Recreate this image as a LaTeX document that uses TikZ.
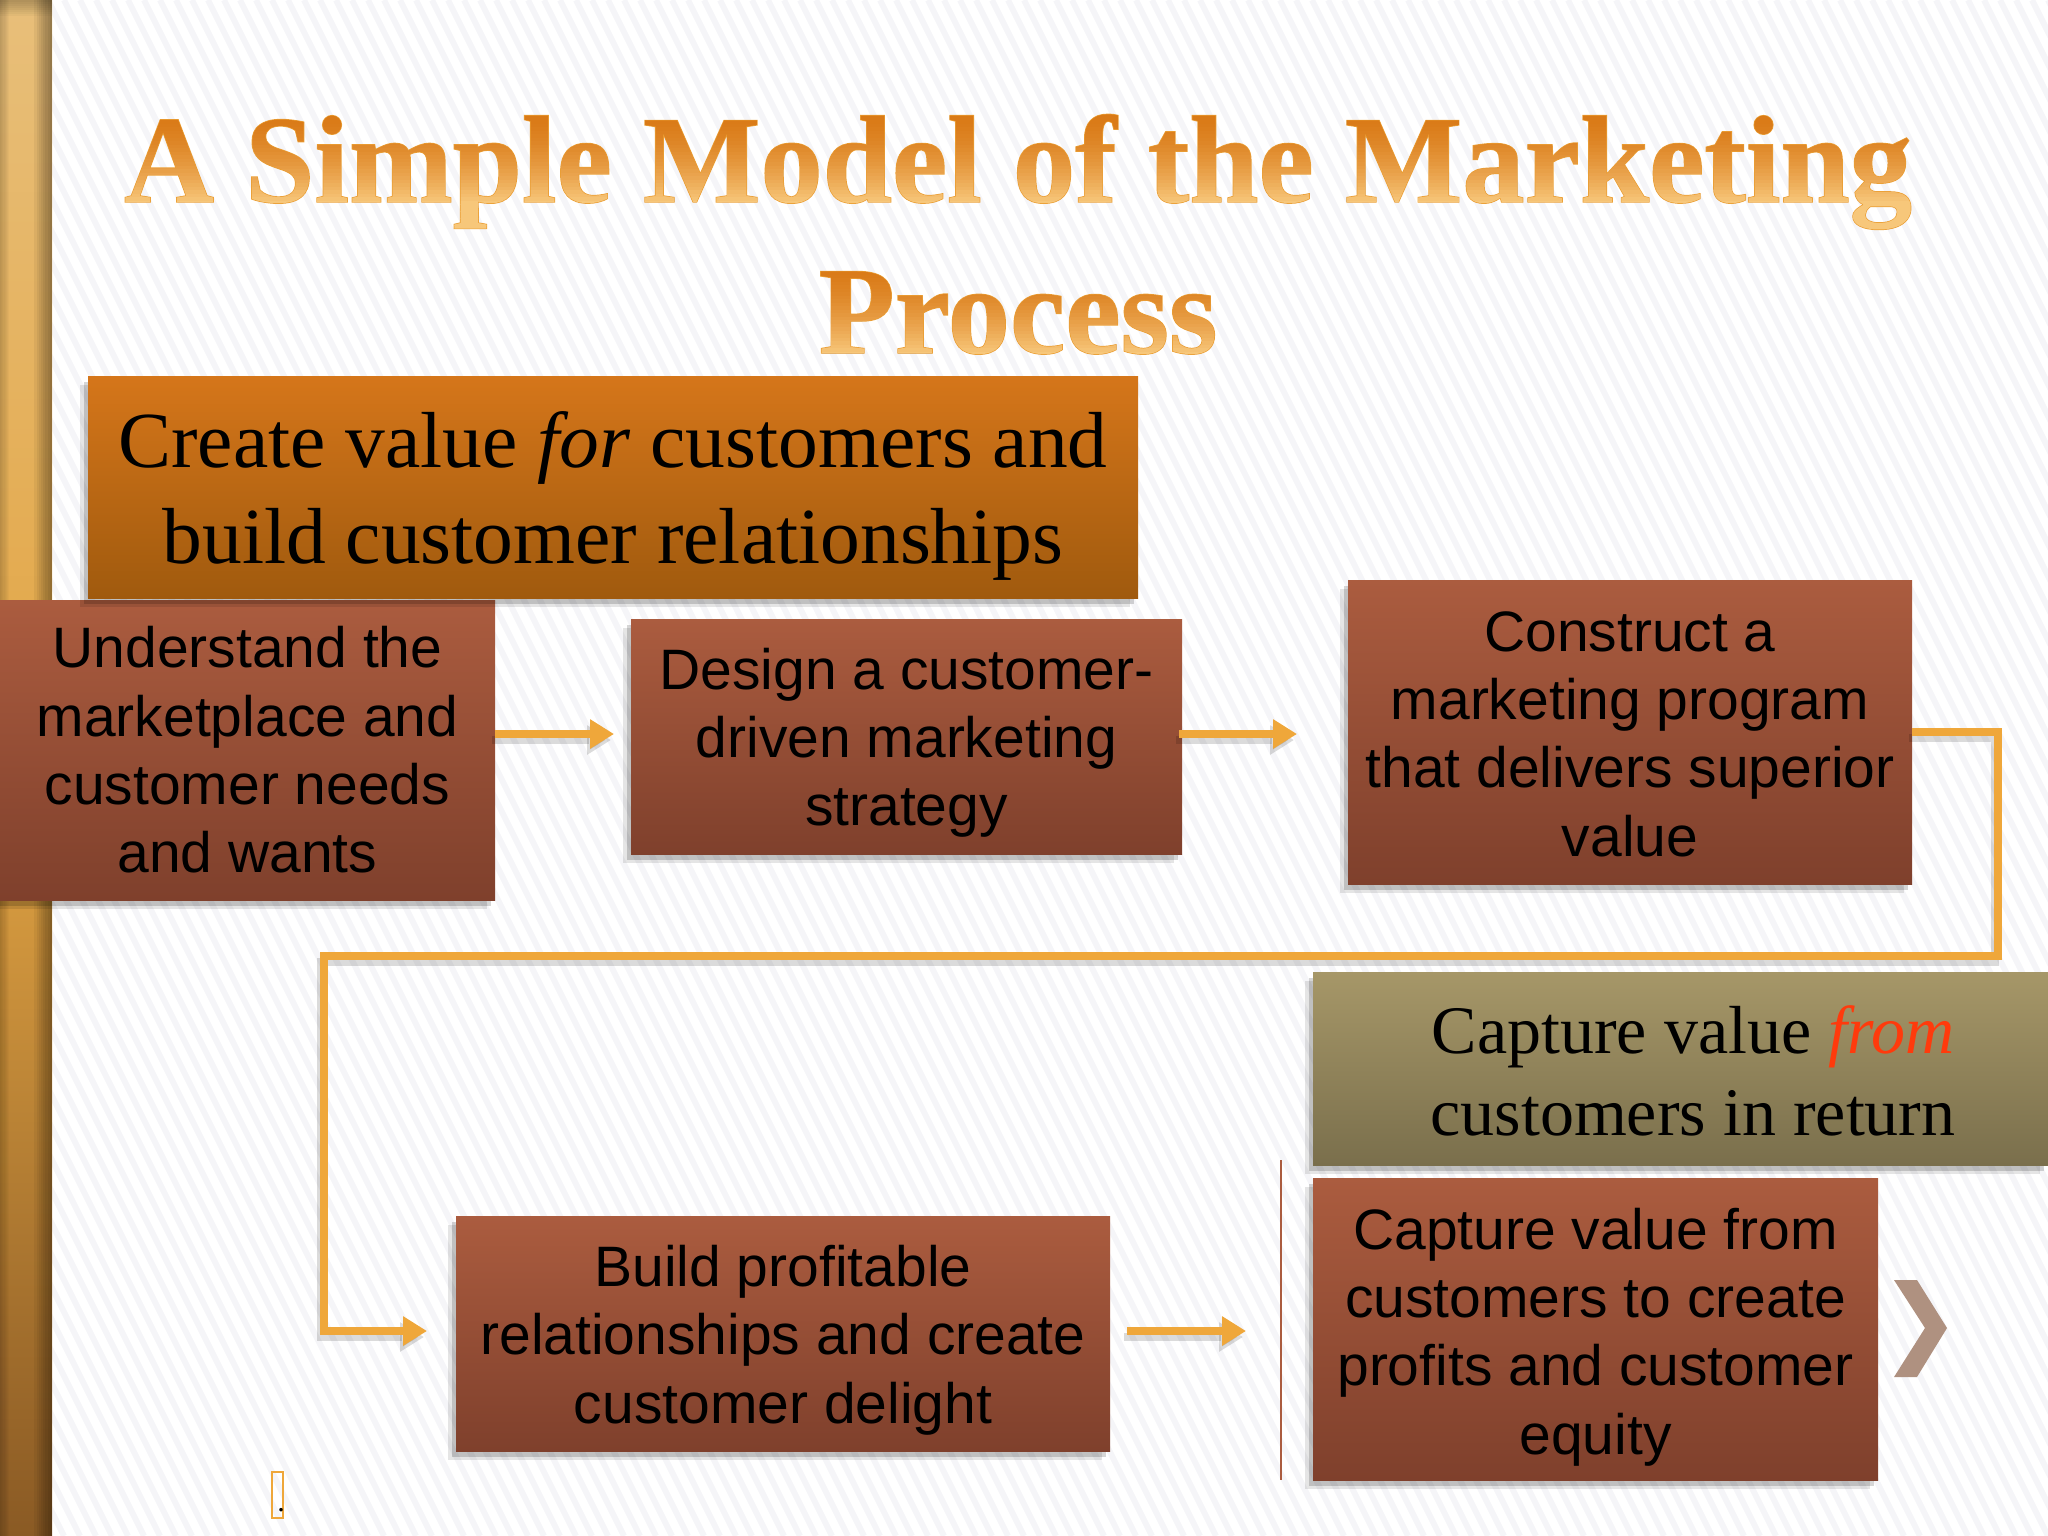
\documentclass[tikz,border=0pt]{standalone}
\usepackage{fontspec}
\usepackage{tikz}
\usetikzlibrary{arrows.meta,shadows}
\setmainfont{Liberation Serif}
\setsansfont{Liberation Sans}
\definecolor{stripe}{HTML}{F5F5F8}
\definecolor{linkcol}{HTML}{EFA73A}
\definecolor{ruby}{HTML}{AB5C3F}
\definecolor{rubydark}{HTML}{7F402C}
\definecolor{amber}{HTML}{D5761A}
\definecolor{amberdark}{HTML}{A05A0E}
\definecolor{olive}{HTML}{A69768}
\definecolor{olivedark}{HTML}{7A6F4C}
\definecolor{bartop}{HTML}{E8BF7A}
\definecolor{barmid}{HTML}{E2A544}
\definecolor{barend}{HTML}{8A5A24}
\definecolor{chevroncol}{HTML}{AF9180}
\definecolor{fromcol}{HTML}{FF3A0C}
% text painted as a clip, with bands of colour laid over it
\newcommand\headfill[1]{%
	\special{pdf:code q 0.92 0.62 0.20 RG 1.4 w 6 Tr}#1\special{pdf:code 0 Tr}%
	\foreach \k in {0,...,39} {%
		\pgfmathsetmacro\tt{min(\k/27,1)^1.7}%
		\pgfmathsetmacro\rr{0.85+0.12*\tt}%
		\pgfmathsetmacro\gg{0.47+0.31*\tt}%
		\pgfmathsetmacro\bb{0.08+0.40*\tt}%
		\pgfmathsetmacro\yy{92-\k*3.5}%
		\special{pdf:content \rr\space\gg\space\bb\space rg -1800 \yy\space 1800 3.6 re f}%
	}%
	\special{pdf:code Q}}
\newcommand\lift[1]{\rule{0pt}{#1pt}}
\tikzset{
	softshadow/.style={drop shadow={shadow xshift=-8pt,shadow yshift=-9pt,opacity=.10,fill=black},
		drop shadow={shadow xshift=-4pt,shadow yshift=-6pt,opacity=.16,fill=black}},
	card/.style={shade,top color=ruby,bottom color=rubydark,inner sep=0pt,align=center,
		font=\sffamily\fontsize{57}{68.4}\selectfont,softshadow},
	band/.style={shade,inner sep=0pt,align=center,softshadow},
	head/.style={inner sep=0pt,font=\bfseries\fontsize{124.5}{150}\selectfont},
	linkshadow/.style={preaction={draw=black,opacity=.14,transform canvas={shift={(-3pt,-6pt)}}}},
}
\begin{document}
\begin{tikzpicture}[x=1pt,y=-1pt]
	\useasboundingbox (0,0) rectangle (2048,1536);
	\begin{scope}
	\clip (0,0) rectangle (2048,1536);
	\foreach \i in {-800,-784,...,2048} {
		\draw[stripe,line width=6pt] (\i,0)--(\i+768,1536);
	}
	\shade[top color=bartop,bottom color=barend,middle color=barmid] (0,0) rectangle (52,1536);
	% the bar darkens towards its edges
	\foreach \k in {0,...,7} {
		\fill[black,opacity=.05] (52-\k*2.2-2.2,0) rectangle (52,1536);
		\fill[black,opacity=.025] (0,0) rectangle (1+\k*1.2,1536);
		\fill[black,opacity=.03] (0,0) rectangle (52,2+\k*2);
	}
	\end{scope}
	% title
	\node[head] (titleone) at (1018,172) {\strut\headfill{A Simple Model of the Marketing}};
	\node[head] (titletwo) at (1018,323) {\strut\headfill{Process}};
	% upper row
	\node[card,minimum width=495pt,minimum height=300pt] (understand) at (247.5,750) {Understand the\\marketplace and\\customer needs\\and wants};
	\node[band,top color=amber,bottom color=amberdark,minimum width=1050pt,minimum height=222pt,
		font=\fontsize{79.5}{95.6}\selectfont] (create) at (613,487) {\lift{74}Create value \textit{for} customers and\\build customer relationships};
	\node[card,minimum width=551pt,minimum height=235pt] (design) at (906.5,736.5) {\lift{54}Design a customer-\\driven marketing\\strategy};
	\node[card,minimum width=564pt,minimum height=304pt] (construct) at (1630,732) {\lift{44}Construct a\\marketing program\\that delivers superior\\value};
	% lower row
	\node[band,top color=olive,bottom color=olivedark,minimum width=735pt,minimum height=193pt] (capturehead) at (1680.5,1068.5) {};
	\node[font=\fontsize{68}{82}\selectfont,align=center,inner sep=0pt] (capturetext) at (1693,1071) {Capture value \textit{\textcolor{fromcol}{from}}\\customers in return};
	\node[card,minimum width=654pt,minimum height=235pt] (build) at (783,1333.5) {\lift{54}Build profitable\\relationships and create\\customer delight};
	\node[card,minimum width=565pt,minimum height=302pt] (capture) at (1595.5,1329) {\lift{57}Capture value from\\customers to create\\profits and customer\\equity};
	\coordinate (p) at (614,734);
	\coordinate (q) at (1297,734);
	\coordinate (r) at (1998,956);
	\coordinate (s) at (324,956);
	\coordinate (t) at (427,1331);
	\coordinate (u) at (1246,1331);
	\begin{scope}[linkcol,line width=7.5pt,-{Triangle[length=24pt,width=28pt]}]
	\draw[linkshadow] (understand.east |- p) -- (p);
	\draw[linkshadow] (design.east |- q) ++(-3,0) -- (q);
	\draw[linkshadow] (construct.east) -| (r) -- (s) |- (t);
	\draw[linkshadow] (build.east |- u) ++(17,0) -- (u);
	\end{scope}
	\draw[ruby,line width=2pt] (1281,1160) -- (1281,1480);
	\fill[chevroncol] (1894,1280)--(1917,1280)--(1947,1328)--(1917,1377)--(1894,1377)--(1925,1328)--cycle;
	\node[draw=linkcol,line width=2pt,minimum width=11pt,minimum height=46pt,inner sep=0pt] (blank) at (277,1495) {};
	\node[font=\fontsize{30}{30}\selectfont,inner sep=0pt,anchor=base] (dot) at (281,1511) {.};
\end{tikzpicture}
\end{document}
